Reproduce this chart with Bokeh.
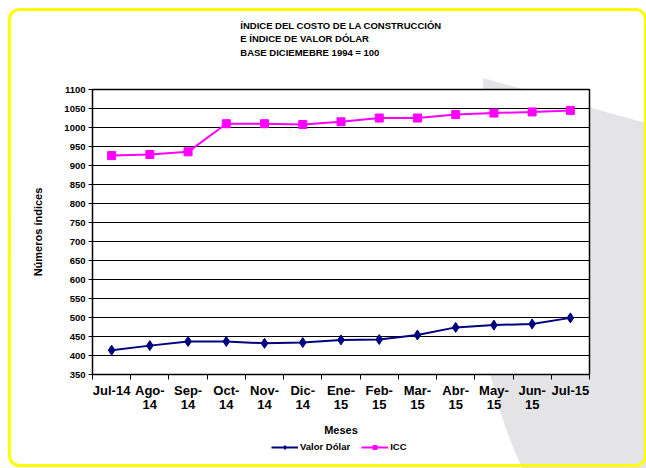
from bokeh.plotting import figure
from bokeh.layouts import column
from bokeh.models import Range1d, FixedTicker, Legend, LegendItem
from bokeh.embed import file_html
from bokeh.resources import INLINE

# ---------------- data ----------------
meses = ["Jul-14", "Ago-14", "Sep-14", "Oct-14", "Nov-14", "Dic-14", "Ene-15",
         "Feb-15", "Mar-15", "Abr-15", "May-15", "Jun-15", "Jul-15"]
tick_labels = ["Jul-14", "Ago-\n14", "Sep-\n14", "Oct-\n14", "Nov-\n14", "Dic-\n14",
               "Ene-\n15", "Feb-\n15", "Mar-\n15", "Abr-\n15", "May-\n15", "Jun-\n15", "Jul-15"]
valor_dolar = [414, 426, 437, 437, 432, 434, 441, 442, 454, 474, 480, 483, 499]
icc = [926, 929, 936, 1010, 1010, 1008, 1015, 1025, 1025, 1034, 1038, 1041, 1045]
y_ticks = list(range(350, 1101, 50))

title_lines = ["ÍNDICE DEL COSTO DE LA CONSTRUCCIÓN",
               "E ÍNDICE DE VALOR DÓLAR",
               "BASE DICIEMEBRE 1994 = 100"]

FONT = "Liberation Sans"
x = list(range(len(meses)))

# decorative page background: yellow rounded frame and grey page-curl shape
bg_svg = ("<svg xmlns='http://www.w3.org/2000/svg' width='646' height='468'>"
          "<path d='M483 78 L646 123 L646 468 L522 468 Q500 420 490 373 Z' fill='%23E4E4E6'/>"
          "<rect x='9.5' y='9.5' width='636' height='456' rx='10' ry='10' fill='none' "
          "stroke='%23FFFF00' stroke-width='3'/></svg>")

# ---------------- main chart ----------------
p = figure(width=646, height=440, output_backend="svg", toolbar_location=None,
           x_range=Range1d(-0.5, len(meses) - 0.5), y_range=Range1d(350, 1100),
           min_border_left=92, min_border_right=57, min_border_top=89,
           min_border_bottom=66)
p.background_fill_color = "white"
p.border_fill_alpha = 0
p.outline_line_color = "black"
p.outline_line_width = 1.5

p.title.text = "\n".join(title_lines) + "\n"
p.title.align = "center"
p.title.vertical_align = "middle"
p.title.standoff = 35
p.title.text_font = FONT
p.title.text_font_size = "9.5px"
p.title.text_font_style = "bold"
p.title.text_color = "black"
p.title.text_line_height = 1.2

p.line(x, valor_dolar, line_color="#000080", line_width=2)
p.scatter(x, valor_dolar, marker="diamond", size=10,
          fill_color="#000080", line_color="#000080")
p.line(x, icc, line_color="#FF00FF", line_width=2)
p.scatter(x, icc, marker="square", size=8,
          fill_color="#FF00FF", line_color="#FF00FF")

xa = p.xaxis[0]
xa.ticker = FixedTicker(ticks=x, minor_ticks=[i - 0.5 for i in range(len(meses) + 1)])
xa.major_label_overrides = {i: lab for i, lab in enumerate(tick_labels)}
xa.major_tick_out = 0
xa.major_tick_in = 0
xa.minor_tick_out = 5
xa.minor_tick_in = 0
xa.minor_tick_line_color = "black"
xa.axis_line_color = "black"
xa.major_label_standoff = 3
xa.major_label_text_font = FONT
xa.major_label_text_font_size = "13px"
xa.major_label_text_font_style = "bold"
xa.major_label_text_color = "black"
xa.major_label_text_line_height = 0.95
xa.axis_label = "Meses"
xa.axis_label_standoff = 9
xa.axis_label_text_font = FONT
xa.axis_label_text_font_size = "11px"
xa.axis_label_text_font_style = "bold"
xa.axis_label_text_color = "black"

ya = p.yaxis[0]
ya.ticker = FixedTicker(ticks=y_ticks)
ya.major_tick_out = 4
ya.major_tick_in = 0
ya.minor_tick_out = 0
ya.minor_tick_in = 0
ya.major_tick_line_color = "black"
ya.axis_line_color = "black"
ya.major_label_standoff = 3
ya.major_label_text_font = FONT
ya.major_label_text_font_size = "9.5px"
ya.major_label_text_font_style = "bold"
ya.major_label_text_color = "black"
ya.axis_label = "Números índices"
ya.axis_label_standoff = 17
ya.axis_label_text_font = FONT
ya.axis_label_text_font_size = "11px"
ya.axis_label_text_font_style = "bold"
ya.axis_label_text_color = "black"

p.xgrid.visible = False
p.ygrid.ticker = FixedTicker(ticks=y_ticks)
p.ygrid.grid_line_color = "black"
p.ygrid.grid_line_width = 1

# ---------------- legend strip (same series, styles reused for the key) ----------------
lg = figure(width=646, height=28, output_backend="svg", toolbar_location=None,
            x_axis_type=None, y_axis_type=None,
            x_range=Range1d(-0.5, len(meses) - 0.5), y_range=Range1d(2000, 3000),
            min_border=0)
lg.outline_line_color = None
lg.background_fill_alpha = 0
lg.border_fill_alpha = 0
lg.grid.visible = False
l1 = lg.line(x, valor_dolar, line_color="#000080", line_width=2)
m1 = lg.scatter(x, valor_dolar, marker="diamond", size=10,
                fill_color="#000080", line_color="#000080")
l2 = lg.line(x, icc, line_color="#FF00FF", line_width=2)
m2 = lg.scatter(x, icc, marker="square", size=8,
                fill_color="#FF00FF", line_color="#FF00FF")

legend = Legend(items=[LegendItem(label="Valor Dólar", renderers=[l1, m1]),
                       LegendItem(label="ICC", renderers=[l2, m2])],
                location=(179, 16), orientation="horizontal",
                glyph_width=27, glyph_height=10, label_standoff=2, spacing=11,
                padding=0, margin=0, label_height=10,
                label_text_font=FONT, label_text_font_size="9.5px",
                label_text_font_style="bold", label_text_color="black",
                border_line_alpha=0, background_fill_alpha=0)
lg.add_layout(legend, "center")

layout = column(p, lg, spacing=0,
                styles={"background-image": 'url("data:image/svg+xml;utf8,' + bg_svg + '")',
                        "background-repeat": "no-repeat"})

open("out.html", "w").write(file_html(layout, INLINE))
